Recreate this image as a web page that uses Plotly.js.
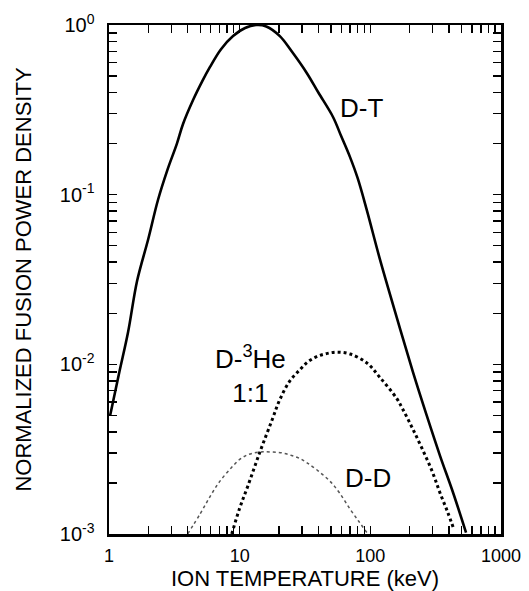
<!DOCTYPE html>
<html>
<head>
<meta charset="utf-8">
<script src="https://cdn.plot.ly/plotly-3.0.1.min.js"></script>
<style>html,body{margin:0;padding:0;background:#fff;}#chart{width:529px;height:591px;}</style>
</head>
<body>
<div id="chart"></div>
<script>
// D-T curve
const dtT = [1.02, 1.2, 1.4, 1.64, 2.0, 2.37, 2.8, 3.31, 3.68, 4.39, 5.2, 5.93, 7.2, 8.9, 11, 13.5, 16, 20.3, 25, 32.7, 40, 51.8, 60, 69.8, 80, 94, 118, 159, 212, 270, 341, 430, 540];
const dtP = [0.0050, 0.0090, 0.0155, 0.031, 0.055, 0.093, 0.140, 0.20, 0.26, 0.36, 0.47, 0.566, 0.72, 0.86, 0.96, 1.0, 0.98, 0.86, 0.70, 0.52, 0.40, 0.287, 0.22, 0.167, 0.125, 0.081, 0.042, 0.0190, 0.0090, 0.0050, 0.0029, 0.00175, 0.00102];
// D-3He 1:1 curve
const dheT = [8.7, 10, 11.5, 14.3, 17.7, 20.3, 24, 28.9, 33, 38.9, 47, 56.5, 70, 94, 118, 159, 178, 210, 253, 300, 341, 390, 437];
const dheP = [0.0010, 0.00142, 0.0019, 0.00305, 0.0047, 0.0062, 0.0079, 0.0093, 0.0103, 0.0111, 0.0116, 0.0118, 0.0115, 0.0102, 0.0084, 0.0063, 0.0054, 0.0042, 0.0031, 0.0023, 0.00175, 0.00135, 0.00106];
// D-D curve
const ddT = [4.0, 5.0, 5.93, 7.0, 8.6, 10, 11.4, 13, 15.1, 18, 21.4, 25, 29, 33, 40, 49, 58, 70, 82, 94];
const ddP = [0.0010, 0.00132, 0.00166, 0.00203, 0.00245, 0.00275, 0.00292, 0.00301, 0.00305, 0.00304, 0.00300, 0.00290, 0.00278, 0.00262, 0.00235, 0.00205, 0.00175, 0.00140, 0.00118, 0.00102];

// Tick positions (decades labelled, 2..9 unlabelled)
const xTickVals = [1,2,3,4,5,6,7,8,9,10,20,30,40,50,60,70,80,90,100,200,300,400,500,600,700,800,900,1000];
const xTickText = xTickVals.map(v => [1, 10, 100, 1000].includes(v) ? String(v) : '');
const yTickVals = [0.001,0.002,0.003,0.004,0.005,0.006,0.007,0.008,0.009,0.01,0.02,0.03,0.04,0.05,0.06,0.07,0.08,0.09,0.1,0.2,0.3,0.4,0.5,0.6,0.7,0.8,0.9,1];
const yDecadeText = {0.001: '10<sup>-3</sup>', 0.01: '10<sup>-2</sup>', 0.1: '10<sup>-1</sup>', 1: '10<sup>0</sup>'};
const yTickText = yTickVals.map(v => yDecadeText[v] || '');

const font = 'Liberation Sans, Arial, Helvetica, sans-serif';

const traces = [
  {x: dtT, y: dtP, mode: 'lines', name: 'D-T', line: {color: '#000', width: 2.6, shape: 'spline'}},
  {x: dheT, y: dheP, mode: 'lines', name: 'D-3He 1:1', line: {color: '#000', width: 3, dash: 'dot', shape: 'spline'}},
  {x: ddT, y: ddP, mode: 'lines', name: 'D-D', line: {color: '#555', width: 1.5, dash: 'dot', shape: 'spline'}}
];

const layout = {
  width: 529, height: 591,
  margin: {l: 109, r: 28, t: 25, b: 57},
  paper_bgcolor: '#fff', plot_bgcolor: 'rgba(0,0,0,0)',
  showlegend: false,
  font: {family: font, color: '#000', size: 18},
  xaxis: {
    type: 'log', range: [0, 3],
    tickmode: 'array', tickvals: xTickVals, ticktext: xTickText,
    ticks: 'inside', ticklen: 8, tickwidth: 1.5, tickcolor: '#000',
    showline: true, linecolor: '#000', linewidth: 2.5, mirror: 'ticks',
    showgrid: false, zeroline: false, layer: 'above traces',
    ticklabelstandoff: 4,
    tickfont: {size: 18, family: font},
    title: {text: 'ION TEMPERATURE (keV)', font: {size: 22, family: font}, standoff: 2}
  },
  yaxis: {
    type: 'log', range: [-3, 0],
    tickmode: 'array', tickvals: yTickVals, ticktext: yTickText,
    ticks: 'inside', ticklen: 8, tickwidth: 1.5, tickcolor: '#000',
    showline: true, linecolor: '#000', linewidth: 2.5, mirror: 'ticks',
    showgrid: false, zeroline: false, layer: 'above traces',
    ticklabelstandoff: 8,
    tickfont: {size: 20, family: font},
    title: {text: 'NORMALIZED FUSION POWER DENSITY', font: {size: 22, family: font}, standoff: 22}
  },
  annotations: [
    {x: Math.log10(86), y: Math.log10(0.324), xref: 'x', yref: 'y', text: 'D-T', showarrow: false, font: {size: 26, family: font, color: '#000'}},
    {x: Math.log10(12.2), y: Math.log10(0.0087), xref: 'x', yref: 'y', text: 'D-<sup>3</sup>He<br>1:1', align: 'center', showarrow: false, font: {size: 26, family: font, color: '#000'}},
    {x: Math.log10(96), y: Math.log10(0.00214), xref: 'x', yref: 'y', text: 'D-D', showarrow: false, font: {size: 26, family: font, color: '#000'}}
  ]
};

Plotly.newPlot('chart', traces, layout, {displayModeBar: false, staticPlot: true});
</script>
</body>
</html>
